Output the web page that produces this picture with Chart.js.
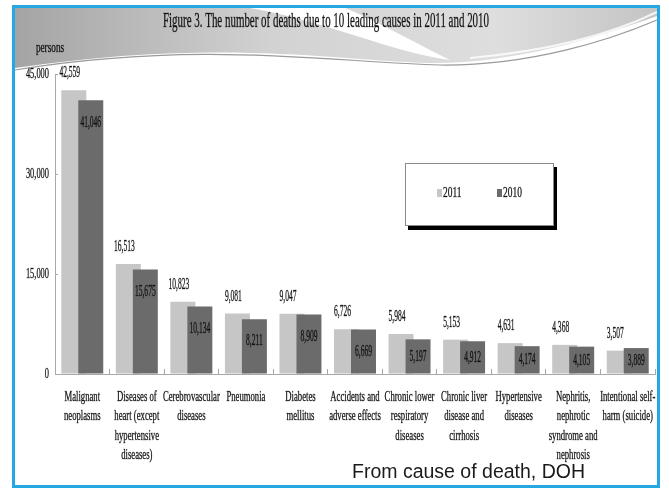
<!DOCTYPE html>
<html>
<head>
<meta charset="utf-8">
<script src="https://cdn.jsdelivr.net/npm/chart.js@4.4.0/dist/chart.umd.min.js"></script>
<style>
  html, body { margin: 0; padding: 0; background: #fff; }
  #wrap { position: relative; width: 669px; height: 491px; }
  #frame { position: absolute; left: 12px; top: 5px; width: 642px; height: 477px;
           border: 3px solid #25a7e1; pointer-events: none; }
</style>
</head>
<body>
<div id="wrap">
  <canvas id="deathChart" width="669" height="491"></canvas>
  <div id="frame"></div>
</div>
<script>
// data
const categories = [
  ["Malignant", "neoplasms"],
  ["Diseases of", "heart (except", "hypertensive", "diseases)"],
  ["Cerebrovascular", "diseases"],
  ["Pneumonia"],
  ["Diabetes", "mellitus"],
  ["Accidents and", "adverse effects"],
  ["Chronic lower", "respiratory", "diseases"],
  ["Chronic liver", "disease and", "cirrhosis"],
  ["Hypertensive", "diseases"],
  ["Nephritis,", "nephrotic", "syndrome and", "nephrosis"],
  ["Intentional self-", "harm (suicide)"]
];
const deaths2011 = [42559, 16513, 10823, 9081, 9047, 6726, 5984, 5153, 4631, 4368, 3507];
const deaths2010 = [41046, 15675, 10134, 8211, 8909, 6669, 5197, 4912, 4174, 4105, 3889];
const yTicks = [0, 15000, 30000, 45000];
const seriesNames = ["2011", "2010"];

const LIGHT = '#c6c6c6';
const DARK = '#6b6b6b';
const AXIS = '#a8a8a8';
const INK = '#111';

// condensed Times-like text, slightly thickened
function sqText(ctx, text, x, y, size, sq, align) {
  ctx.save();
  ctx.font = size + 'px "Liberation Serif"';
  ctx.fillStyle = INK;
  ctx.strokeStyle = 'rgba(17,17,17,0.55)';
  ctx.lineWidth = 0.5;
  ctx.textBaseline = 'middle';
  ctx.textAlign = align || 'center';
  ctx.translate(x, y);
  ctx.scale(sq, 1);
  ctx.fillText(text, 0, 0);
  ctx.strokeText(text, 0, 0);
  ctx.restore();
}

const fmt = v => v.toLocaleString('en-US');

// grey swoosh behind the title
const backdrop = {
  id: 'backdrop',
  beforeDraw(chart) {
    const c = chart.ctx;
    c.save();
    const g = c.createLinearGradient(15, 0, 657, 0);
    g.addColorStop(0, '#a4a4a4');
    g.addColorStop(0.4, '#d2d2d2');
    g.addColorStop(0.75, '#dedede');
    g.addColorStop(1, '#c4c4c4');
    c.fillStyle = g;
    c.beginPath();
    c.moveTo(15, 8);
    c.lineTo(657, 8);
    c.lineTo(657, 16);
    c.bezierCurveTo(590, 40, 510, 64, 430, 63);
    c.bezierCurveTo(330, 60, 220, 38, 15, 68);
    c.closePath();
    c.fill();
    // white swoosh coming down from the top
    c.fillStyle = '#ffffff';
    c.beginPath();
    c.moveTo(250, 8);
    c.bezierCurveTo(330, 22, 390, 52, 450, 60);
    c.bezierCurveTo(410, 40, 370, 18, 345, 8);
    c.closePath();
    c.fill();
    // light streaks on the right
    c.strokeStyle = 'rgba(255,255,255,0.8)';
    c.lineWidth = 2;
    c.beginPath();
    c.moveTo(470, 58);
    c.bezierCurveTo(560, 50, 620, 30, 657, 12);
    c.stroke();
    // thin grey wave line
    c.strokeStyle = '#9a9a9a';
    c.lineWidth = 1.2;
    c.beginPath();
    c.moveTo(15, 70);
    c.bezierCurveTo(200, 40, 330, 62, 440, 65);
    c.bezierCurveTo(530, 66, 610, 40, 657, 20);
    c.stroke();
    c.restore();

    const title = 'Figure 3. The number of deaths due to 10 leading causes in 2011 and 2010';
    c.save();
    c.font = '20px "Liberation Serif"';
    const w = c.measureText(title).width;
    c.restore();
    sqText(c, title, 326, 22, 20, 326 / w);
  }
};

// draw the 2010 bars after the 2011 bars so they sit in front
const frontBars = {
  id: 'frontBars',
  beforeDatasetDraw(chart, args) {
    if (args.index === 1 && !chart.$late) return false;
  },
  afterDatasetsDraw(chart) {
    chart.$late = true;
    chart.getDatasetMeta(1).controller.draw();
    chart.$late = false;
  }
};

const overlay = {
  id: 'overlay',
  afterDraw(chart) {
    const c = chart.ctx;
    const xs = chart.scales.x, ys = chart.scales.y;
    const base = ys.getPixelForValue(0);

    // y tick labels
    yTicks.forEach(v => sqText(c, fmt(v), 49, ys.getPixelForValue(v), 15, 0.56, 'right'));
    sqText(c, 'persons', 50, 48, 14, 0.66);

    // category labels
    categories.forEach((lines, i) => {
      const x = xs.getPixelForTick(i);
      lines.forEach((t, j) => sqText(c, t, x, 397 + j * 19.5, 14, 0.62));
    });

    // value labels
    chart.getDatasetMeta(0).data.forEach((bar, i) => {
      sqText(c, fmt(deaths2011[i]), bar.x - 4, bar.y - 17, 16, 0.47);
    });
    chart.getDatasetMeta(1).data.forEach((bar, i) => {
      sqText(c, fmt(deaths2010[i]), bar.x, bar.y + Math.min(22, (base - bar.y) / 2), 16, 0.47);
    });

    // legend box
    c.save();
    c.fillStyle = '#000';
    c.fillRect(408, 167, 149, 63);
    c.fillStyle = '#fff';
    c.fillRect(405, 163, 149, 63);
    c.strokeStyle = '#8a8a8a';
    c.lineWidth = 1;
    c.strokeRect(405.5, 163.5, 148, 62);
    c.fillStyle = LIGHT;
    c.fillRect(437, 189, 5, 8);
    c.fillStyle = DARK;
    c.fillRect(497, 189, 5, 8);
    c.restore();
    sqText(c, seriesNames[0], 443, 193, 15, 0.63, 'left');
    sqText(c, seriesNames[1], 503, 193, 15, 0.63, 'left');

    // source note
    c.save();
    c.font = '19.5px "Liberation Sans"';
    c.fillStyle = '#1a1a1a';
    c.textBaseline = 'alphabetic';
    c.textAlign = 'left';
    c.fillText('From cause of death, DOH', 352, 478);
    c.restore();
  }
};

const ctx = document.getElementById('deathChart').getContext('2d');
const deathChart = new Chart(ctx, {
  type: 'bar',
  data: {
    labels: categories,
    datasets: [{
      label: seriesNames[0],
      data: deaths2011,
      backgroundColor: LIGHT,
      categoryPercentage: 0.623,
      barPercentage: 1.47
    }, {
      label: seriesNames[1],
      data: deaths2010,
      backgroundColor: DARK,
      categoryPercentage: 0.623,
      barPercentage: 1.47
    }]
  },
  options: {
    responsive: false,
    animation: false,
    layout: { padding: { top: 74, right: 14, left: 0, bottom: 0 } },
    plugins: {
      legend: { display: false },
      tooltip: { enabled: false }
    },
    scales: {
      x: {
        grid: { drawOnChartArea: false, tickLength: -5, color: AXIS },
        border: { color: AXIS },
        ticks: { display: false },
        afterFit: s => { s.height = 117; }
      },
      y: {
        min: 0,
        max: 45000,
        ticks: { display: false, stepSize: 15000 },
        grid: { drawOnChartArea: false, tickLength: -3, color: AXIS },
        border: { color: AXIS },
        afterFit: s => { s.width = 55; }
      }
    }
  },
  plugins: [backdrop, frontBars, overlay]
});
</script>
</body>
</html>
